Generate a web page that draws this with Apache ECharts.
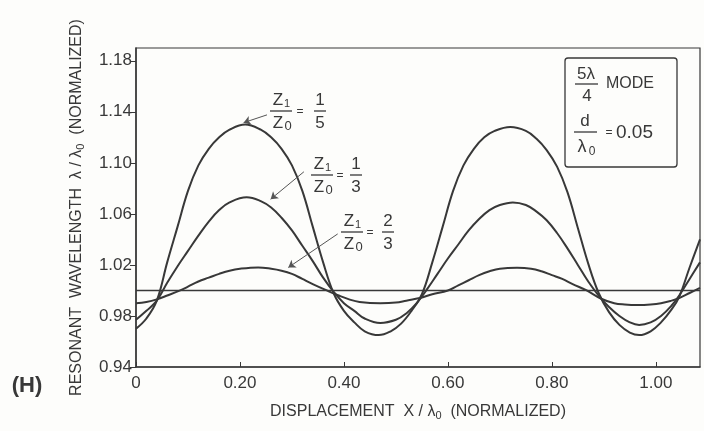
<!DOCTYPE html>
<html>
<head>
<meta charset="utf-8">
<script src="https://cdn.jsdelivr.net/npm/echarts@6/dist/echarts.min.js"></script>
<style>
  html, body { margin: 0; padding: 0; background: #fdfdfb; }
  #chart { width: 704px; height: 431px; }
</style>
</head>
<body>
<div id="chart"></div>
<script>
// Z1/Z0 = 1/5 curve
const bigX = [0, 0.02, 0.04, 0.06, 0.08, 0.10, 0.12, 0.14, 0.16, 0.18, 0.21, 0.24, 0.26, 0.28, 0.30, 0.32, 0.34, 0.36, 0.38, 0.40, 0.42, 0.44, 0.467, 0.49, 0.51, 0.53, 0.55, 0.57, 0.59, 0.61, 0.63, 0.65, 0.67, 0.69, 0.72, 0.75, 0.77, 0.79, 0.81, 0.83, 0.85, 0.87, 0.89, 0.91, 0.93, 0.95, 0.968, 0.99, 1.01, 1.03, 1.045, 1.065, 1.085];
const bigY = [0.970, 0.978, 0.992, 1.022, 1.050, 1.078, 1.098, 1.111, 1.120, 1.126, 1.130, 1.126, 1.120, 1.111, 1.098, 1.078, 1.050, 1.022, 0.998, 0.984, 0.975, 0.968, 0.965, 0.968, 0.974, 0.984, 0.997, 1.022, 1.050, 1.078, 1.098, 1.111, 1.120, 1.125, 1.128, 1.125, 1.119, 1.110, 1.097, 1.077, 1.049, 1.021, 0.998, 0.983, 0.973, 0.967, 0.965, 0.968, 0.975, 0.985, 0.995, 1.018, 1.040];

// Z1/Z0 = 1/3 curve
const medX = [0, 0.02, 0.04, 0.06, 0.08, 0.10, 0.12, 0.14, 0.16, 0.18, 0.213, 0.24, 0.26, 0.28, 0.30, 0.32, 0.34, 0.36, 0.38, 0.40, 0.42, 0.44, 0.47, 0.50, 0.52, 0.54, 0.56, 0.58, 0.60, 0.62, 0.64, 0.66, 0.68, 0.70, 0.725, 0.75, 0.77, 0.79, 0.81, 0.83, 0.85, 0.87, 0.89, 0.91, 0.93, 0.95, 0.968, 0.99, 1.01, 1.03, 1.045, 1.065, 1.085];
const medY = [0.977, 0.984, 0.992, 1.006, 1.019, 1.031, 1.043, 1.054, 1.063, 1.069, 1.073, 1.070, 1.065, 1.057, 1.047, 1.035, 1.023, 1.010, 0.999, 0.990, 0.984, 0.978, 0.9745, 0.977, 0.982, 0.990, 1.001, 1.013, 1.025, 1.036, 1.047, 1.056, 1.063, 1.067, 1.069, 1.067, 1.062, 1.055, 1.045, 1.033, 1.020, 1.007, 0.996, 0.987, 0.980, 0.975, 0.973, 0.975, 0.980, 0.988, 0.996, 1.009, 1.022];

// Z1/Z0 = 2/3 curve
const smallX = [0, 0.02, 0.04, 0.06, 0.085, 0.10, 0.12, 0.14, 0.16, 0.18, 0.20, 0.235, 0.26, 0.28, 0.30, 0.32, 0.34, 0.367, 0.39, 0.41, 0.43, 0.47, 0.50, 0.52, 0.546, 0.57, 0.60, 0.62, 0.64, 0.66, 0.68, 0.70, 0.733, 0.76, 0.78, 0.80, 0.82, 0.84, 0.867, 0.895, 0.92, 0.94, 0.965, 0.99, 1.01, 1.03, 1.045, 1.065, 1.085];
const smallY = [0.990, 0.991, 0.993, 0.996, 1.000, 1.003, 1.007, 1.010, 1.013, 1.0155, 1.017, 1.018, 1.017, 1.0155, 1.013, 1.009, 1.005, 1.000, 0.996, 0.993, 0.991, 0.990, 0.9905, 0.992, 0.994, 0.997, 1.000, 1.004, 1.008, 1.012, 1.015, 1.017, 1.0177, 1.017, 1.015, 1.012, 1.009, 1.005, 1.000, 0.9935, 0.990, 0.989, 0.9886, 0.989, 0.990, 0.992, 0.994, 0.998, 1.002];

// lambda = lambda0 reference line
const refX = [0, 1.085];
const refY = [1.0, 1.0];

const xTicks = [0, 0.2, 0.4, 0.6, 0.8, 1.0];
const yTicks = [0.94, 0.98, 1.02, 1.06, 1.10, 1.14, 1.18];

// arrows: [fromX, fromY, toX, toY] in data units
const arrows = [
  [0.252, 1.1376, 0.207, 1.1315],
  [0.323, 1.093, 0.259, 1.0715],
  [0.388, 1.0443, 0.293, 1.018],
];

const INK = "#383838";
const FONT = '"Liberation Sans", "DejaVu Sans", sans-serif';

const pair = (xs, ys) => xs.map((x, i) => [x, ys[i]]);

const txt = (x, y, s, size, extra) => ({
  type: "text",
  x, y,
  silent: true,
  style: Object.assign({
    text: s, fill: INK, font: `${size}px ${FONT}`,
    align: "center", verticalAlign: "middle",
  }, extra || {}),
});
const bar = (x1, x2, y) => ({
  type: "line", silent: true,
  shape: { x1, y1: y, x2, y2: y },
  style: { stroke: INK, lineWidth: 1.3 },
});
const zFrac = (cx, by) => [
  txt(cx - 3, by - 11, "Z", 17), txt(cx + 6, by - 7, "1", 11),
  bar(cx - 11, cx + 11, by),
  txt(cx - 3, by + 12, "Z", 17), txt(cx + 7, by + 15, "0", 13),
];
const numFrac = (cx, by, n, d) => [
  txt(cx, by - 11, n, 17), bar(cx - 6, cx + 6, by), txt(cx, by + 12, d, 17),
];

const graphics = [
  ...zFrac(281, 111), txt(300, 112, "=", 12), ...numFrac(320, 111, "1", "5"),
  ...zFrac(322, 175), txt(340, 176, "=", 12), ...numFrac(356, 175, "1", "3"),
  ...zFrac(352, 232), txt(370, 233, "=", 12), ...numFrac(388, 232, "2", "3"),
  // mode box
  { type: "rect", silent: true, shape: { x: 565, y: 58, width: 112, height: 109, r: 3 },
    style: { fill: "none", stroke: INK, lineWidth: 1.3 } },
  txt(586, 74, "5λ", 17), bar(575, 598, 84), txt(587, 96, "4", 17),
  txt(606, 84, "MODE", 16, { align: "left" }),
  txt(585, 121, "d", 17), bar(574, 597, 132),
  txt(582, 147, "λ", 18), txt(592, 152, "0", 12),
  txt(609, 133, "=", 12), txt(616, 133, "0.05", 19, { align: "left" }),
  txt(27, 386, "(H)", 22, { font: `bold 22px ${FONT}` }),
];

const chart = echarts.init(document.getElementById("chart"), null, { renderer: "canvas" });

const lineSeries = (name, xs, ys, width) => ({
  name,
  type: "line",
  data: pair(xs, ys),
  smooth: 0.4,
  showSymbol: false,
  silent: true,
  lineStyle: { color: INK, width },
});

chart.setOption({
  animation: false,
  backgroundColor: "#fdfdfb",
  textStyle: { fontFamily: FONT },
  grid: { left: 136, right: 4, top: 48, bottom: 64, show: true, borderColor: INK, borderWidth: 1.2 },
  xAxis: {
    type: "value", min: 0, max: 1.085,
    axisLine: { lineStyle: { color: INK, width: 1.5 } },
    axisTick: { inside: true, length: 5, customValues: xTicks, lineStyle: { color: INK } },
    axisLabel: {
      customValues: xTicks, color: INK, fontSize: 17, margin: 8,
      formatter: (v) => (v === 0 ? "0" : v.toFixed(2)),
    },
    splitLine: { show: false },
    name: "DISPLACEMENT  X / λ{s|0}  (NORMALIZED)",
    nameLocation: "middle", nameGap: 35,
    nameTextStyle: { color: INK, fontSize: 16, rich: { s: { fontSize: 11, padding: [8, 0, 0, 0] } } },
  },
  yAxis: {
    type: "value", min: 0.94, max: 1.19,
    axisLine: { lineStyle: { color: INK, width: 1.5 } },
    axisTick: { length: 6, customValues: yTicks, lineStyle: { color: INK } },
    axisLabel: {
      customValues: yTicks, color: INK, fontSize: 17, margin: 4,
      formatter: (v) => v.toFixed(2),
    },
    splitLine: { show: false },
    name: "RESONANT  WAVELENGTH  λ / λ{s|0}  (NORMALIZED)",
    nameLocation: "middle", nameGap: 50,
    nameTextStyle: { color: INK, fontSize: 16, rich: { s: { fontSize: 11, padding: [8, 0, 0, 0] } } },
  },
  series: [
    lineSeries("Z1/Z0 = 1/5", bigX, bigY, 2),
    lineSeries("Z1/Z0 = 1/3", medX, medY, 2),
    lineSeries("Z1/Z0 = 2/3", smallX, smallY, 2),
    {
      name: "unity", type: "line", data: pair(refX, refY),
      showSymbol: false, silent: true,
      lineStyle: { color: INK, width: 1.5 },
      markLine: {
        silent: true, animation: false,
        symbol: ["none", "arrow"], symbolSize: 7,
        label: { show: false },
        lineStyle: { type: "solid", color: "#555", width: 1 },
        data: arrows.map((a) => [{ coord: [a[0], a[1]] }, { coord: [a[2], a[3]] }]),
      },
    },
  ],
  graphic: graphics,
});
</script>
</body>
</html>
